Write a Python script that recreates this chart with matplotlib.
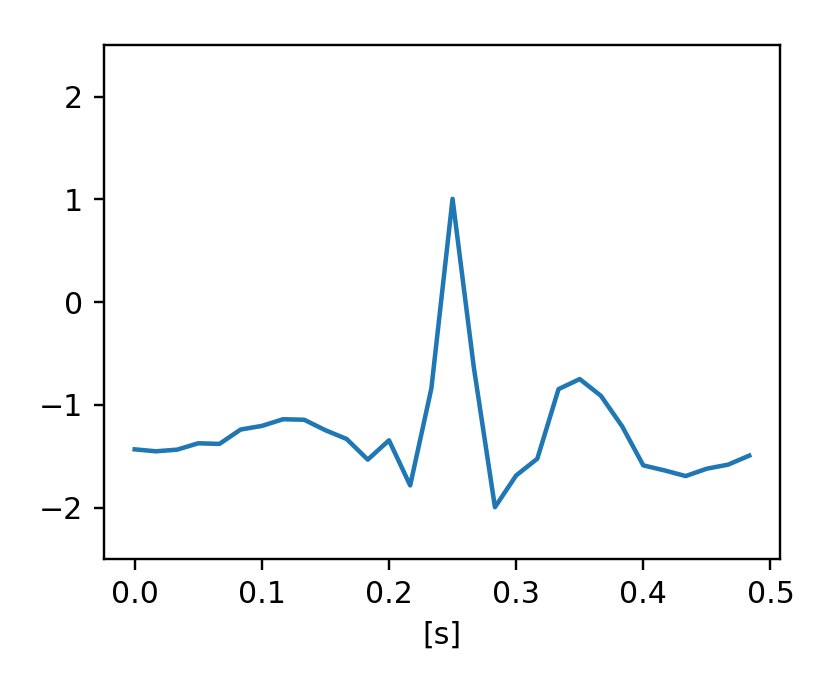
"""Senyal tipus ECG d'un batec, mostrejat a 60 Hz."""

import matplotlib
matplotlib.use("Agg")
import matplotlib.pyplot as plt
import numpy as np

fs = 60
signal = [
    -1.433, -1.452, -1.436, -1.374, -1.380, -1.240, -1.205, -1.140, -1.145, -1.247,
    -1.332, -1.533, -1.345, -1.784, -0.840, 1.005, -0.630, -1.996, -1.687, -1.524,
    -0.847, -0.749, -0.912, -1.208, -1.589, -1.638, -1.693, -1.621, -1.582, -1.494,
]
t = np.arange(len(signal)) / fs

fig = plt.figure(figsize=(831 / 216, 693 / 216), dpi=216)
ax = fig.add_axes([0.1251, 0.1934, 0.8135, 0.7413])
ax.plot(t, signal)
ax.set_ylim(-2.5, 2.5)
ax.set_xlabel("[s]")

fig.savefig("out.png", dpi=216)
plt.close(fig)
